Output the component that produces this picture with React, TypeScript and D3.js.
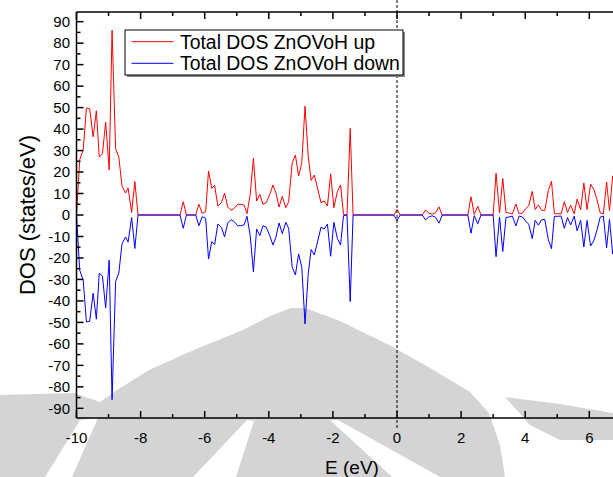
import React from "react";
import * as d3 from "d3";

const energy = [
  -10.0, -9.9, -9.79, -9.69, -9.59, -9.48, -9.38, -9.29, -9.19, -9.09, -8.98, -8.89, -8.78, -8.68, -8.58, -8.47, -8.39, -8.28, -8.18, -8.08,
  -6.77, -6.67, -6.57, -6.28, -6.18, -6.08, -5.97, -5.88, -5.78, -5.69, -5.59, -5.48, -5.38, -5.28, -5.18, -5.08, -4.97, -4.87, -4.77, -4.68,
  -4.58, -4.48, -4.38, -4.28, -4.18, -4.08, -3.97, -3.87, -3.78, -3.68, -3.58, -3.47, -3.38, -3.27, -3.17, -3.07, -2.97, -2.87, -2.77, -2.68,
  -2.58, -2.47, -2.37, -2.27, -2.17, -2.07, -1.97, -1.86, -1.76, -1.67, -1.56, -1.46, -1.37,
  -0.1, 0.0, 0.1, 0.79, 0.89, 1.0, 1.1, 1.2, 1.31, 1.41, 2.21, 2.31, 2.41, 2.52, 2.62,
  3.0, 3.09, 3.2, 3.3, 3.4, 3.5, 3.6, 3.71, 3.81, 3.92, 4.01, 4.11, 4.22, 4.31, 4.41, 4.51, 4.61, 4.72, 4.82, 4.91,
  5.02, 5.12, 5.22, 5.32, 5.42, 5.53, 5.62, 5.73, 5.83, 5.93, 6.04, 6.14, 6.24, 6.34, 6.44, 6.54, 6.63, 6.73, 6.83,
];

const dosUp = [
  0, 25.7, 30.4, 49.8, 49.5, 36.4, 48.5, 27, 28.5, 43.3, 21, 86, 31, 27, 13.5, 10.2, 12.6, 1.2, 15.6, 0,
  0, 6.2, 0, 0, 5, 0.8, 1.5, 20.5, 12.4, 13.8, 4.2, 5.7, 10.2, 3.7, 2.2, 3.1, 5, 5, 4.6, 0.6,
  9.6, 26.4, 6.5, 9.6, 5, 5.7, 9.6, 14, 10.4, 3.7, 8.7, 3.4, 6.2, 24.3, 27.9, 18.1, 24.3, 50.7, 27.4, 16.1,
  18.6, 11.9, 5.7, 6.5, 4.2, 19.2, 3.4, 10.9, 14, 0.3, 0, 40.3, 0,
  0, 2.6, 0, 0, 2.3, 0.8, 0.4, 1.0, 3.8, 0, 0, 8.5, 0.3, 4.1, 0,
  0, 19.4, 0.9, 17.0, 1.2, 0.9, 0.5, 5.1, 0.5, 1, 2.8, 4.3, 11, 2.5, 4.7, 2.3, 2.0, 11.3, 15.7, 0.6,
  0.6, 0.5, 6.2, 1.2, 4.6, 0.5, 7.4, 2.5, 14.9, 2.5, 14.4, 12, 7.1, 1, 0.5, 15.3, 2, 18.2, 5,
];

const dosDown = [
  0, -25.7, -30.4, -49.8, -49.5, -36.4, -48.5, -27, -28.5, -43.3, -21, -86, -31, -27, -13.5, -10.2, -12.6, -1.2, -15.6, 0,
  0, -6.2, 0, 0, -5, -0.8, -1.5, -20.5, -12.4, -13.8, -4.2, -5.7, -10.2, -3.7, -2.2, -3.1, -5, -5, -4.6, -0.6,
  -9.6, -26.4, -6.5, -9.6, -5, -5.7, -9.6, -14, -10.4, -3.7, -8.7, -3.4, -6.2, -24.3, -27.9, -18.1, -24.3, -50.7, -27.4, -16.1,
  -18.6, -11.9, -5.7, -6.5, -4.2, -19.2, -3.4, -10.9, -14, -0.3, 0, -40.3, 0,
  0, -2.6, 0, 0, -2.3, -0.8, -0.4, -1.0, -3.8, 0, 0, -8.5, -0.3, -4.1, 0,
  0, -19.4, -0.9, -17.0, -1.2, -0.9, -0.5, -5.1, -0.5, -1, -2.8, -4.3, -11, -2.5, -4.7, -2.3, -2.0, -11.3, -15.7, -0.6,
  -0.6, -0.5, -6.2, -1.2, -4.6, -0.5, -7.4, -2.5, -14.9, -2.5, -14.4, -12, -7.1, -1, -0.5, -15.3, -2, -18.2, -5,
];

const xMajorTicks = [-10, -8, -6, -4, -2, 0, 2, 4, 6];
const xMinorTicks = [-9, -7, -5, -3, -1, 1, 3, 5];
const yMajorTicks = [-90, -80, -70, -60, -50, -40, -30, -20, -10, 0, 10, 20, 30, 40, 50, 60, 70, 80, 90];
const yMinorTicks = [-85, -75, -65, -55, -45, -35, -25, -15, -5, 5, 15, 25, 35, 45, 55, 65, 75, 85];
const seriesNames = ["Total DOS ZnOVoH up", "Total DOS ZnOVoH down"];
const seriesColors = ["#ff0000", "#0000ff"];

// background watermark shapes (pixel outlines)
const wmGray = [
  [[0, 395], [74, 393], [100, 402], [117, 390], [149, 370], [196, 349], [243, 330], [270, 316], [291, 308], [305, 308], [340, 321], [391, 346], [430, 368], [470, 392], [489, 413], [500, 445], [505, 477], [0, 477]],
  [[505, 397], [560, 404], [613, 413], [613, 440], [560, 440], [530, 425]],
];
const wmWhite = [
  [[80, 420], [98, 418], [72, 477], [45, 477]],
  [[247, 420], [254, 421], [236, 477], [193, 477]],
  [[330, 420], [338, 420], [440, 477], [392, 477]],
];

const W = 613;
const H = 477;
const left = 76.5;
const top = 12;
const bottom = 418;
const FONT = "'Liberation Sans', Arial, sans-serif";

export default function App() {
  const x = d3.scaleLinear().domain([-10, 7]).range([left, left + 17 * 32.05]);
  const y = d3.scaleLinear().domain([-94.5, 94.5]).range([bottom, top]);
  const upPts = energy.map((e, i) => [e, dosUp[i]] as [number, number]);
  const downPts = energy.map((e, i) => [e, dosDown[i]] as [number, number]);
  const line = d3
    .line<[number, number]>()
    .x((d) => x(d[0]))
    .y((d) => y(d[1]));
  const poly = (pts: number[][]) => "M" + pts.map((p) => p.join(",")).join("L") + "Z";
  const x0 = x(0);

  return (
    <svg width={W} height={H} style={{ position: "absolute", left: 0, top: 0, background: "#fff" }}>
      <defs>
        <clipPath id="plotclip">
          <rect x={left} y={top} width={W - left} height={bottom - top} />
        </clipPath>
      </defs>
      <rect x={0} y={0} width={W} height={H} fill="#fff" />
      {wmGray.map((p, i) => (
        <path key={"g" + i} d={poly(p)} fill="#d4d4d4" />
      ))}
      {wmWhite.map((p, i) => (
        <path key={"w" + i} d={poly(p)} fill="#fff" />
      ))}

      <g clipPath="url(#plotclip)">
        <path d={line(upPts) || ""} fill="none" stroke={seriesColors[0]} strokeWidth={1} />
        <path d={line(downPts) || ""} fill="none" stroke={seriesColors[1]} strokeWidth={1} />
      </g>

      <line x1={x0} x2={x0} y1={0} y2={430} stroke="#000" strokeWidth={1} strokeDasharray="3,2" />

      {/* axes */}
      <line x1={left} x2={left} y1={top} y2={bottom} stroke="#000" strokeWidth={1.5} />
      <line x1={left} x2={W} y1={bottom} y2={bottom} stroke="#000" strokeWidth={1.5} />
      <line x1={left} x2={W} y1={top} y2={top} stroke="#000" strokeWidth={1.5} />

      {xMajorTicks.map((t) => (
        <g key={"xm" + t}>
          <line x1={x(t)} x2={x(t)} y1={bottom} y2={bottom - 7} stroke="#000" strokeWidth={1.5} />
          <line x1={x(t)} x2={x(t)} y1={top} y2={top + 7} stroke="#000" strokeWidth={1.5} />
          <text x={x(t)} y={443} textAnchor="middle" fontFamily={FONT} fontSize={15} fill="#000">
            {t}
          </text>
        </g>
      ))}
      {xMinorTicks.map((t) => (
        <g key={"xn" + t}>
          <line x1={x(t)} x2={x(t)} y1={bottom} y2={bottom - 4} stroke="#000" strokeWidth={1.5} />
          <line x1={x(t)} x2={x(t)} y1={top} y2={top + 4} stroke="#000" strokeWidth={1.5} />
        </g>
      ))}
      {yMajorTicks.map((t) => (
        <g key={"ym" + t}>
          <line x1={left} x2={left + 7} y1={y(t)} y2={y(t)} stroke="#000" strokeWidth={1.5} />
          <text x={70} y={y(t) + 5.3} textAnchor="end" fontFamily={FONT} fontSize={15} fill="#000">
            {t}
          </text>
        </g>
      ))}
      {yMinorTicks.map((t) => (
        <line key={"yn" + t} x1={left} x2={left + 4} y1={y(t)} y2={y(t)} stroke="#000" strokeWidth={1.5} />
      ))}

      <text x={352} y={474} textAnchor="middle" fontFamily={FONT} fontSize={19} fill="#000">
        E (eV)
      </text>
      <text
        transform={`translate(35,${y(0)}) rotate(-90)`}
        textAnchor="middle"
        fontFamily={FONT}
        fontSize={22}
        fill="#000"
      >
        DOS (states/eV)
      </text>

      {/* legend */}
      <rect x={127} y={32} width={278} height={45} fill="#888" />
      <rect x={125} y={30} width={278} height={45} fill="#fff" stroke="#000" strokeWidth={1} />
      {seriesNames.map((n, i) => (
        <g key={n}>
          <line x1={131.5} x2={173.5} y1={41.7 + i * 21.6} y2={41.7 + i * 21.6} stroke={seriesColors[i]} strokeWidth={1} />
          <text x={180} y={48.5 + i * 21.6} fontFamily={FONT} fontSize={19.4} fill="#000">
            {n}
          </text>
        </g>
      ))}
    </svg>
  );
}
